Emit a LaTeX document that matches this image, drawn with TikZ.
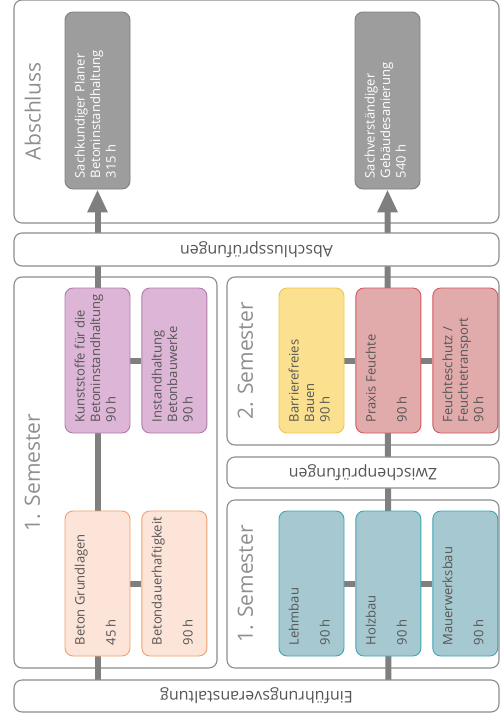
\documentclass[tikz,border=0pt]{standalone}
\usepackage{fontspec}
\setmainfont{Open Sans}
\usetikzlibrary{positioning,arrows.meta}

\pgfdeclarelayer{frames}
\pgfdeclarelayer{spines}
\pgfsetlayers{frames,spines,main}

\definecolor{framegray}{HTML}{8C8C8C}
\definecolor{spinegray}{HTML}{7F7F7F}
\definecolor{textgray}{HTML}{555555}
\definecolor{titlegray}{HTML}{8F8F8F}
\definecolor{grayfill}{HTML}{9D9D9D}
\definecolor{grayline}{HTML}{808080}
\definecolor{lilafill}{HTML}{DDB5D6}
\definecolor{lilaline}{HTML}{B07BAA}
\definecolor{lachsfill}{HTML}{FDE4D9}
\definecolor{lachsline}{HTML}{F0A06C}
\definecolor{gelbfill}{HTML}{FBE18F}
\definecolor{gelbline}{HTML}{F3C64A}
\definecolor{rotfill}{HTML}{E2ABAB}
\definecolor{rotline}{HTML}{D4585E}
\definecolor{blaufill}{HTML}{A6C9D1}
\definecolor{blauline}{HTML}{3DA5B5}

\tikzset{
  frame/.style={draw=framegray, line width=1.1pt, rounded corners=8pt, fill=white, inner sep=0pt},
  bar/.style={frame, rotate=180, text=textgray, font=\fontsize{16}{16}\selectfont},
  title/.style={rotate=90, anchor=north, inner sep=0pt, text=titlegray, font=\fontsize{21}{21}\selectfont},
  module/.style={rounded corners=8pt, line width=0.9pt, minimum width=65pt, minimum height=145pt, inner sep=0pt},
  grau/.style={module, fill=grayfill, draw=grayline, minimum height=177pt},
  lila/.style={module, fill=lilafill, draw=lilaline},
  lachs/.style={module, fill=lachsfill, draw=lachsline},
  gelb/.style={module, fill=gelbfill, draw=gelbline},
  rot/.style={module, fill=rotfill, draw=rotline},
  blau/.style={module, fill=blaufill, draw=blauline},
  modtext/.style={rotate=90, anchor=north west, align=left, inner sep=0pt, text=textgray, font=\fontsize{13}{15.5}\selectfont},
  link/.style={draw=spinegray, line width=6pt},
  spine/.style={link, -{Triangle[width=19pt, length=23pt]}}
}

\begin{document}
\begin{tikzpicture}[x=1pt, y=-1pt]
\useasboundingbox (0,0) rectangle (500,720);

% Rahmen
\begin{pgfonlayer}{frames}
  \node[frame, minimum width=485, minimum height=223] (abs) at (256.5,111.5) {};
  \node[frame, minimum width=203, minimum height=391] (semA) at (115.5,472.5) {};
  \node[frame, minimum width=272, minimum height=168] (semB) at (363,361) {};
  \node[frame, minimum width=272, minimum height=168] (semC) at (363,584) {};
\end{pgfonlayer}

\node[title] (absT) at ([xshift=11pt]abs.west) {Abschluss};
\node[title] (semAT) at ([xshift=11pt]semA.west) {1. Semester};
\node[title] (semBT) at ([xshift=11pt]semB.west) {2. Semester};
\node[title] (semCT) at ([xshift=11pt]semC.west) {1. Semester};

% Pruefungsbalken
\node[bar, minimum width=485, minimum height=33] (apruef) at (256.5,249.5) {Abschlussprüfungen};
\node[bar, minimum width=272, minimum height=31] (zpruef) at (363,472.5) {Zwischenprüfungen};
\node[bar, minimum width=485, minimum height=32] (einf) at (256.5,696) {Einführungsveranstaltung};

% Module
\node[grau] (planer) at (97.5,100.5) {};
\node[grau] (sachv) at (387.5,100.5) {};
\node[lila] (kunst) at (97.5,360.5) {};
\node[lila, right=11pt of kunst] (inst) {};
\node[lachs] (grund) at (97.5,583.5) {};
\node[lachs, right=11pt of grund] (dauer) {};
\node[gelb] (barr) at (311.5,360.5) {};
\node[rot, right=11pt of barr] (praxis) {};
\node[rot, right=11pt of praxis] (feucht) {};
\node[blau] (lehm) at (311.5,583.5) {};
\node[blau, right=11pt of lehm] (holz) {};
\node[blau, right=11pt of holz] (mauer) {};

\node[modtext, text=white] (planerT) at ([shift={(10,-11)}]planer.south west) {Sachkundiger Planer\\Betoninstandhaltung\\315 h};
\node[modtext, text=white] (sachvT) at ([shift={(10,-11)}]sachv.south west) {Sachverständiger\\Gebäudesanierung\\540 h};
\node[modtext] (kunstT) at ([shift={(10,-11)}]kunst.south west) {Kunststoffe für die\\Betoninstandhaltung\\90 h};
\node[modtext] (instT) at ([shift={(10,-11)}]inst.south west) {Instandhaltung\\Betonbauwerke\\90 h};
\node[modtext] (grundT) at ([shift={(10,-11)}]grund.south west) {Beton Grundlagen\\[15.5pt]45 h};
\node[modtext] (dauerT) at ([shift={(10,-11)}]dauer.south west) {Betondauerhaftigkeit\\[15.5pt]90 h};
\node[modtext] (barrT) at ([shift={(10,-11)}]barr.south west) {Barrierefreies\\Bauen\\90 h};
\node[modtext] (praxisT) at ([shift={(10,-11)}]praxis.south west) {Praxis Feuchte\\[15.5pt]90 h};
\node[modtext] (feuchtT) at ([shift={(10,-11)}]feucht.south west) {Feuchteschutz /\\Feuchtetransport\\90 h};
\node[modtext] (lehmT) at ([shift={(10,-11)}]lehm.south west) {Lehmbau\\[15.5pt]90 h};
\node[modtext] (holzT) at ([shift={(10,-11)}]holz.south west) {Holzbau\\[15.5pt]90 h};
\node[modtext] (mauerT) at ([shift={(10,-11)}]mauer.south west) {Mauerwerksbau\\[15.5pt]90 h};

% Verbindungen
\begin{pgfonlayer}{spines}
  \draw[spine] (einf.center -| grund) -- (planer.south);
  \draw[spine] (einf.center -| holz) -- (sachv.south);
  \draw[link] (grund) -- (dauer);
  \draw[link] (kunst) -- (inst);
  \draw[link] (barr) -- (praxis) -- (feucht);
  \draw[link] (lehm) -- (holz) -- (mauer);
\end{pgfonlayer}
\end{tikzpicture}
\end{document}
